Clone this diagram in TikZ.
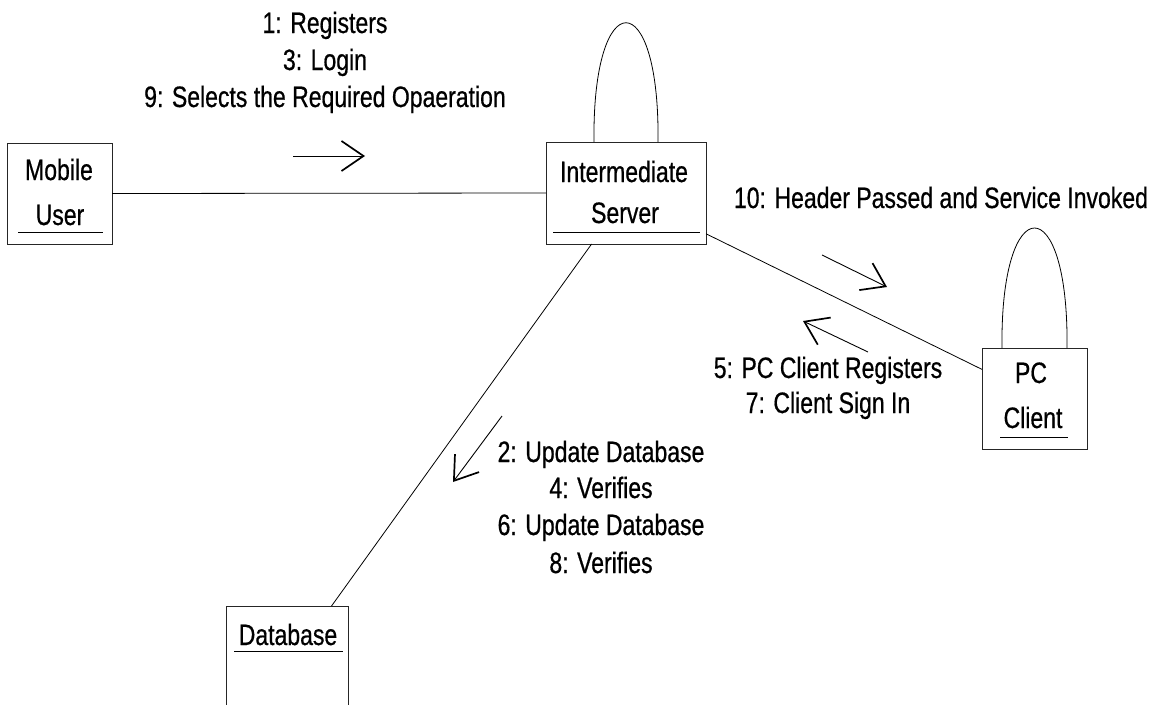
\documentclass[tikz,border=0pt]{standalone}
\usepackage{fontspec}
\setmainfont{Liberation Sans}[FakeStretch=0.78,FakeBold=0.6]
\usetikzlibrary{arrows.meta}
\begin{document}
\begin{tikzpicture}[x=1pt,y=-1pt,
  font=\fontsize{29.5}{35}\selectfont,
  obj/.style={draw=black!85, line width=0.9pt, rectangle, inner sep=0pt, outer sep=0pt},
  txt/.style={anchor=base, inner sep=0pt, outer sep=0pt},
  link/.style={draw=black, line width=0.8pt},
  msg/.style={draw=black, line width=0.9pt, -{Straight Barb[length=22pt,width=30pt,line width=1.7pt]}},
  uline/.style={draw=black, line width=1pt}]
\clip (0,0) rectangle (1161,704);
\fill[white] (0,0) rectangle (1161,704);

% objects
\node[obj, minimum width=105pt, minimum height=101pt] (mu) at (59.5,193.5) {};
\node[obj, minimum width=160pt, minimum height=102pt] (srv) at (626,193) {};
\node[obj, minimum width=105pt, minimum height=101pt] (pc) at (1034.5,398.5) {};
\node[obj, minimum width=122pt, minimum height=114pt] (db) at (287,663) {};

% object names
\node[txt] (mut1) at (59,180) {Mobile};
\node[txt] (mut2) at (60,225) {User};
\draw[uline] (18,232) -- (103,232);
\node[txt] (srt1) at (624,182) {Intermediate};
\node[txt] (srt2) at (625,223) {Server};
\draw[uline] (553,232) -- (700,232);
\node[txt] (pct1) at (1031,383) {PC};
\node[txt] (pct2) at (1033,428) {Client};
\draw[uline] (1000,437) -- (1068,437);
\node[txt] (dbt) at (288,645) {Database};
\draw[uline] (234,651) -- (343,651);

% links
\draw[link] (mu.east) -- (srv.west);
\draw[link] (srv.-27.7) -- (pc.151.5);
\draw[link] (srv.-124.7) -- (db.52.2);
\draw[link] (594,142) .. controls (592,-17) and (660,-17) .. (658,142);
\draw[link] (1002,348) .. controls (1000,188) and (1069,188) .. (1067,348);

% messages
\coordinate (a1s) at (293,156); \coordinate (a1e) at (365,156);
\draw[msg] (a1s) -- (a1e);
\coordinate (a2s) at (822,255); \coordinate (a2e) at (887,287);
\draw[msg] (a2s) -- (a2e);
\coordinate (a3s) at (868,352); \coordinate (a3e) at (803,321);
\draw[msg] (a3s) -- (a3e);
\coordinate (a4s) at (502,416); \coordinate (a4e) at (453,482);
\draw[msg] (a4s) -- (a4e);

% message labels
\node[txt] (l1) at (325,33) {1: Registers};
\node[txt] (l3) at (325,70) {3: Login};
\node[txt] (l9) at (325,107) {9: Selects the Required Opaeration};
\node[txt] (l10) at (941,208) {10: Header Passed and Service Invoked};
\node[txt] (l5) at (828,378) {5: PC Client Registers};
\node[txt] (l7) at (828,413) {7: Client Sign In};
\node[txt] (l2) at (601,462) {2: Update Database};
\node[txt] (l4) at (601,498) {4: Verifies};
\node[txt] (l6) at (601,535) {6: Update Database};
\node[txt] (l8) at (601,573) {8: Verifies};
\end{tikzpicture}
\end{document}
